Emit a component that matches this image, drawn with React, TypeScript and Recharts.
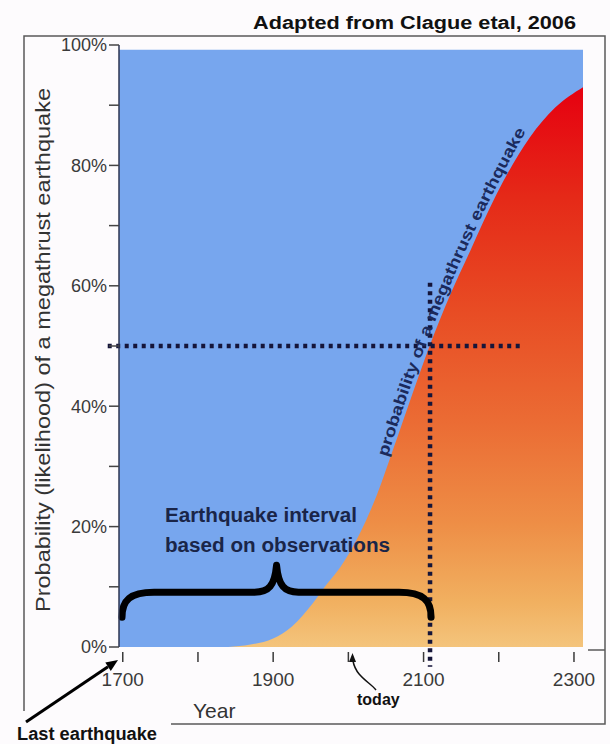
import React from 'react';
import { ComposedChart, Area, XAxis, YAxis, ReferenceArea, ReferenceLine } from 'recharts';

// ---- data ----
const years = [1840, 1870, 1900, 1925, 1953, 1970, 1989, 2015, 2038, 2060, 2085, 2108, 2135, 2162, 2197, 2241, 2275, 2312];
const probability = [0, 0.4, 1.4, 3.4, 7.3, 10.2, 13.2, 18.8, 25.3, 33.0, 42.0, 50, 58.4, 65.8, 75.2, 84.6, 89.6, 93];
const xTicks = [1700, 1800, 1900, 2000, 2100, 2200, 2300];
const xLabelled = [1700, 1900, 2100, 2300];
const yTicks = [0, 10, 20, 30, 40, 50, 60, 70, 80, 90, 100];
const xDomain = [1695, 2312];
const blueTop = 99.2;
const fiftyYear = 2108.6;
const intervalStart = 1699;
const intervalEnd = 2110;

const data = years.map((year, i) => ({ year, p: probability[i] }));

const FONT = '"Liberation Sans", Arial, sans-serif';

const XTick = (props: any) => {
  const { x, y, payload } = props;
  const v = payload.value;
  return (
    <g>
      <line x1={x} x2={x} y1={y + 5} y2={y + 15} stroke="#3a3a3a" strokeWidth={1.5} />
      {xLabelled.includes(v) && (
        <text x={x} y={y + 39} textAnchor="middle" fontSize={19} fill="#3a3a3a" fontFamily={FONT}>
          {v}
        </text>
      )}
    </g>
  );
};

const BraceShape = (props: any) => {
  const { x1, y1, x2 } = props;
  const y = y1;
  const xm = (x1 + x2) / 2;
  const d = `M ${x1} ${y + 25} C ${x1} ${y + 8} ${x1 + 8} ${y} ${x1 + 32} ${y} L ${xm - 22} ${y} C ${xm - 8} ${y} ${xm - 2} ${y - 6} ${xm} ${y - 27} C ${xm + 2} ${y - 6} ${xm + 8} ${y} ${xm + 22} ${y} L ${x2 - 32} ${y} C ${x2 - 8} ${y} ${x2} ${y + 8} ${x2} ${y + 25}`;
  return <path d={d} fill="none" stroke="#000" strokeWidth={7} strokeLinecap="round" strokeLinejoin="round" />;
};

const CurveLabel = (props: any) => {
  const { x1, y1, x2, y2 } = props;
  const mx = (x1 + x2) / 2;
  const my = (y1 + y2) / 2;
  const dx = x2 - x1;
  const dy = y2 - y1;
  const len = Math.hypot(dx, dy) || 1;
  const nx = dy / len;
  const ny = -dx / len;
  const cx = mx + nx * 20;
  const cy = my + ny * 20;
  return (
    <g>
      <defs>
        <path id="curveLabelPath" d={`M ${x1} ${y1} Q ${cx} ${cy} ${x2} ${y2}`} />
      </defs>
      <text fontSize={16} fill="#1b2a5c" fontFamily={FONT} fontWeight={600}>
        <textPath href="#curveLabelPath" textLength={355} lengthAdjust="spacingAndGlyphs">
          probability of a megathrust earthquake
        </textPath>
      </text>
    </g>
  );
};

export default function App() {
  return (
    <div style={{ position: 'absolute', left: 0, top: 0, width: 610, height: 744, background: '#fdfbfd' }}>
      <div style={{ position: 'absolute', left: 0, top: 0 }}>
        <ComposedChart width={610} height={744} data={data} margin={{ top: 45, right: 27, left: 0, bottom: 67 }}>
          <defs>
            <linearGradient id="probGrad" x1="0" y1="0" x2="0" y2="1">
              <stop offset="0" stopColor="#e60010" />
              <stop offset="0.2" stopColor="#e52a18" />
              <stop offset="0.4" stopColor="#e84c24" />
              <stop offset="0.6" stopColor="#eb6c34" />
              <stop offset="0.78" stopColor="#ee8e46" />
              <stop offset="0.92" stopColor="#f1b060" />
              <stop offset="1" stopColor="#f4c47c" />
            </linearGradient>
          </defs>
          <XAxis
            type="number"
            dataKey="year"
            domain={xDomain}
            allowDataOverflow
            ticks={xTicks}
            interval={0}
            axisLine={false}
            tickLine={false}
            tickSize={0}
            tickMargin={0}
            height={30}
            tick={<XTick />}
          />
          <YAxis
            type="number"
            domain={[0, 100]}
            ticks={yTicks}
            interval={0}
            width={119}
            tickSize={10}
            tickMargin={2}
            tickFormatter={(v: number) => (v % 20 === 0 ? `${v}%` : '')}
            tick={{ fill: '#3a3a3a', fontSize: 18, fontFamily: FONT }}
            tickLine={{ stroke: '#444', strokeWidth: 1.5 }}
            axisLine={{ stroke: '#2c3550', strokeWidth: 1.5 }}
          />
          <ReferenceArea x1={xDomain[0]} x2={xDomain[1]} y1={0} y2={blueTop} fill="#77a6ee" fillOpacity={1} stroke="none" />
          <Area
            type="monotone"
            dataKey="p"
            stroke="none"
            fill="url(#probGrad)"
            fillOpacity={1}
            baseValue={0}
            isAnimationActive={false}
            dot={false}
            activeDot={false}
          />
          <ReferenceLine
            segment={[{ x: 1680, y: 50 }, { x: 2231, y: 50 }]}
            stroke="#15153a"
            strokeWidth={4.5}
            strokeDasharray="4 4.5"
            ifOverflow="visible"
          />
          <ReferenceLine
            segment={[{ x: fiftyYear, y: 60.5 }, { x: fiftyYear, y: -3.3 }]}
            stroke="#15153a"
            strokeWidth={4.5}
            strokeDasharray="4 4.5"
            ifOverflow="visible"
          />
          <ReferenceLine
            segment={[{ x: 2052, y: 31.5 }, { x: 2242, y: 87 }]}
            ifOverflow="visible"
            shape={<CurveLabel />}
          />
          <ReferenceLine
            segment={[{ x: intervalStart, y: 9.1 }, { x: intervalEnd, y: 9.1 }]}
            ifOverflow="visible"
            shape={<BraceShape />}
          />
        </ComposedChart>
      </div>
      <svg
        width={610}
        height={744}
        style={{ position: 'absolute', left: 0, top: 0, pointerEvents: 'none' }}
      >
        {/* frame */}
        <polyline points="24,711 24,36 605,36 605,724 171,724" fill="none" stroke="#5a5a5a" strokeWidth={1.5} />
        <line x1={588} x2={605} y1={650} y2={650} stroke="#5a5a5a" strokeWidth={1.5} />
        {/* title */}
        <text x={253} y={29} fontSize={18} fontWeight={700} fill="#111" fontFamily={FONT} textLength={323} lengthAdjust="spacingAndGlyphs">
          Adapted from Clague etal, 2006
        </text>
        {/* y axis label */}
        <text
          transform="translate(50,350) rotate(-90)"
          textAnchor="middle"
          fontSize={20}
          fill="#333"
          fontFamily={FONT}
          textLength={524}
          lengthAdjust="spacingAndGlyphs"
        >
          Probability (likelihood) of a megathrust earthquake
        </text>
        {/* interval annotation */}
        <text x={165} y={522} fontSize={20} fontWeight={700} fill="#1a2548" fontFamily={FONT} textLength={192} lengthAdjust="spacingAndGlyphs">
          Earthquake interval
        </text>
        <text x={165} y={552} fontSize={20} fontWeight={700} fill="#1a2548" fontFamily={FONT} textLength={225} lengthAdjust="spacingAndGlyphs">
          based on observations
        </text>
        {/* Year */}
        <text x={193} y={718} fontSize={21} fill="#333" fontFamily={FONT}>
          Year
        </text>
        {/* today */}
        <text x={357} y={705} fontSize={16} fontWeight={700} fill="#111" fontFamily={FONT}>
          today
        </text>
        <path d="M 376 690 C 370 682 356 677 353 661" fill="none" stroke="#111" strokeWidth={1.5} />
        <polygon points="352.5,653 349,662 356,662" fill="#111" />
        {/* last earthquake */}
        <line x1={26} y1={722} x2={108} y2={666.7} stroke="#000" strokeWidth={3} />
        <polygon points="118,660 110.8,670.9 105.3,662.6" fill="#000" />
        <text x={17} y={740} fontSize={18} fontWeight={700} fill="#111" fontFamily={FONT} textLength={140} lengthAdjust="spacingAndGlyphs">
          Last earthquake
        </text>
      </svg>
    </div>
  );
}
